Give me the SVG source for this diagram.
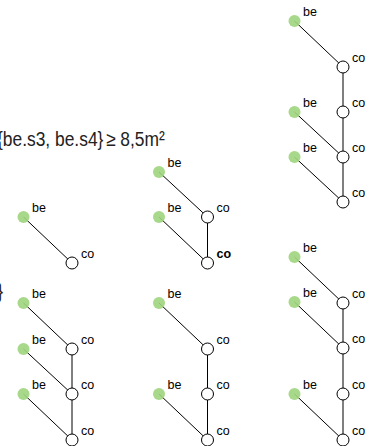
<svg xmlns="http://www.w3.org/2000/svg" width="373" height="446" viewBox="0 0 373 446">
<style>
.e{stroke:#000;stroke-width:1;fill:none}
.be{fill:#9fd47c;fill-opacity:0.9}
.co{fill:#fff;stroke:#000;stroke-width:1}
.lb{font-family:"Liberation Sans",Arial,sans-serif;font-size:12.5px;fill:#000}
.big{font-family:"Liberation Sans",Arial,sans-serif;font-size:20px;fill:#222}
</style>
<rect width="373" height="446" fill="#fff"/>
<text class="big" transform="translate(-3,146) scale(0.87,1)" x="0" y="0">{be.s3, be.s4}<tspan dx="3">≥</tspan> 8,5m²</text>
<text class="big" transform="translate(3,298) scale(0.87,1)" x="0" y="0" text-anchor="end">}</text>
<g id="connectors">
<line class="e" x1="294.5" y1="21" x2="343" y2="67"/>
<line class="e" x1="343" y1="67" x2="343" y2="202"/>
<line class="e" x1="294.5" y1="112" x2="343" y2="157"/>
<line class="e" x1="294.5" y1="157" x2="343" y2="202"/>
<line class="e" x1="23.5" y1="217" x2="72" y2="263"/>
<line class="e" x1="159" y1="172" x2="207.5" y2="217"/>
<line class="e" x1="159" y1="217" x2="207.5" y2="263"/>
<line class="e" x1="207.5" y1="217" x2="207.5" y2="263"/>
<line class="e" x1="23.5" y1="303" x2="72" y2="349"/>
<line class="e" x1="23.5" y1="349" x2="72" y2="394"/>
<line class="e" x1="23.5" y1="394" x2="72" y2="440"/>
<line class="e" x1="72" y1="349" x2="72" y2="440"/>
<line class="e" x1="159" y1="303" x2="207.5" y2="349"/>
<line class="e" x1="159" y1="394" x2="207.5" y2="440"/>
<line class="e" x1="207.5" y1="349" x2="207.5" y2="440"/>
<line class="e" x1="294.5" y1="257" x2="343" y2="303"/>
<line class="e" x1="294.5" y1="302" x2="343" y2="348"/>
<line class="e" x1="294.5" y1="394" x2="343" y2="440"/>
<line class="e" x1="343" y1="303" x2="343" y2="440"/>
</g>
<g id="tr-be1"><circle class="be" cx="294.5" cy="21" r="6"/><text class="lb" x="303" y="16">be</text></g>
<g id="tr-co1"><circle class="co" cx="343" cy="67" r="6"/><text class="lb" x="352" y="62">co</text></g>
<g id="tr-co2"><circle class="co" cx="343" cy="112" r="6"/><text class="lb" x="352" y="107">co</text></g>
<g id="tr-be2"><circle class="be" cx="294.5" cy="112" r="6"/><text class="lb" x="303" y="107">be</text></g>
<g id="tr-co3"><circle class="co" cx="343" cy="157" r="6"/><text class="lb" x="352" y="152">co</text></g>
<g id="tr-be3"><circle class="be" cx="294.5" cy="157" r="6"/><text class="lb" x="303" y="152">be</text></g>
<g id="tr-co4"><circle class="co" cx="343" cy="202" r="6"/><text class="lb" x="352" y="197">co</text></g>
<g id="ml-be1"><circle class="be" cx="23.5" cy="217" r="6"/><text class="lb" x="32" y="212">be</text></g>
<g id="ml-co1"><circle class="co" cx="72" cy="263" r="6"/><text class="lb" x="81" y="258">co</text></g>
<g id="mm-be1"><circle class="be" cx="159" cy="172" r="6"/><text class="lb" x="167.5" y="167">be</text></g>
<g id="mm-co1"><circle class="co" cx="207.5" cy="217" r="6"/><text class="lb" x="216.5" y="212">co</text></g>
<g id="mm-be2"><circle class="be" cx="159" cy="217" r="6"/><text class="lb" x="167.5" y="212">be</text></g>
<g id="mm-co2"><circle class="co" cx="207.5" cy="263" r="6"/><text class="lb" x="216.5" y="258" font-weight="bold">co</text></g>
<g id="bl-be1"><circle class="be" cx="23.5" cy="303" r="6"/><text class="lb" x="32" y="298">be</text></g>
<g id="bl-co1"><circle class="co" cx="72" cy="349" r="6"/><text class="lb" x="81" y="344">co</text></g>
<g id="bl-be2"><circle class="be" cx="23.5" cy="349" r="6"/><text class="lb" x="32" y="344">be</text></g>
<g id="bl-co2"><circle class="co" cx="72" cy="394" r="6"/><text class="lb" x="81" y="389">co</text></g>
<g id="bl-be3"><circle class="be" cx="23.5" cy="394" r="6"/><text class="lb" x="32" y="389">be</text></g>
<g id="bl-co3"><circle class="co" cx="72" cy="440" r="6"/><text class="lb" x="81" y="435">co</text></g>
<g id="bm-be1"><circle class="be" cx="159" cy="303" r="6"/><text class="lb" x="167.5" y="298">be</text></g>
<g id="bm-co1"><circle class="co" cx="207.5" cy="349" r="6"/><text class="lb" x="216.5" y="344">co</text></g>
<g id="bm-co2"><circle class="co" cx="207.5" cy="394" r="6"/><text class="lb" x="216.5" y="389">co</text></g>
<g id="bm-be2"><circle class="be" cx="159" cy="394" r="6"/><text class="lb" x="167.5" y="389">be</text></g>
<g id="bm-co3"><circle class="co" cx="207.5" cy="440" r="6"/><text class="lb" x="216.5" y="435">co</text></g>
<g id="br-be1"><circle class="be" cx="294.5" cy="257" r="6"/><text class="lb" x="303" y="252">be</text></g>
<g id="br-co1"><circle class="co" cx="343" cy="303" r="6"/><text class="lb" x="352" y="298">co</text></g>
<g id="br-be2"><circle class="be" cx="294.5" cy="302" r="6"/><text class="lb" x="303" y="297">be</text></g>
<g id="br-co2"><circle class="co" cx="343" cy="348" r="6"/><text class="lb" x="352" y="343">co</text></g>
<g id="br-co3"><circle class="co" cx="343" cy="394" r="6"/><text class="lb" x="352" y="389">co</text></g>
<g id="br-be3"><circle class="be" cx="294.5" cy="394" r="6"/><text class="lb" x="303" y="389">be</text></g>
<g id="br-co4"><circle class="co" cx="343" cy="440" r="6"/><text class="lb" x="352" y="435">co</text></g>
</svg>
